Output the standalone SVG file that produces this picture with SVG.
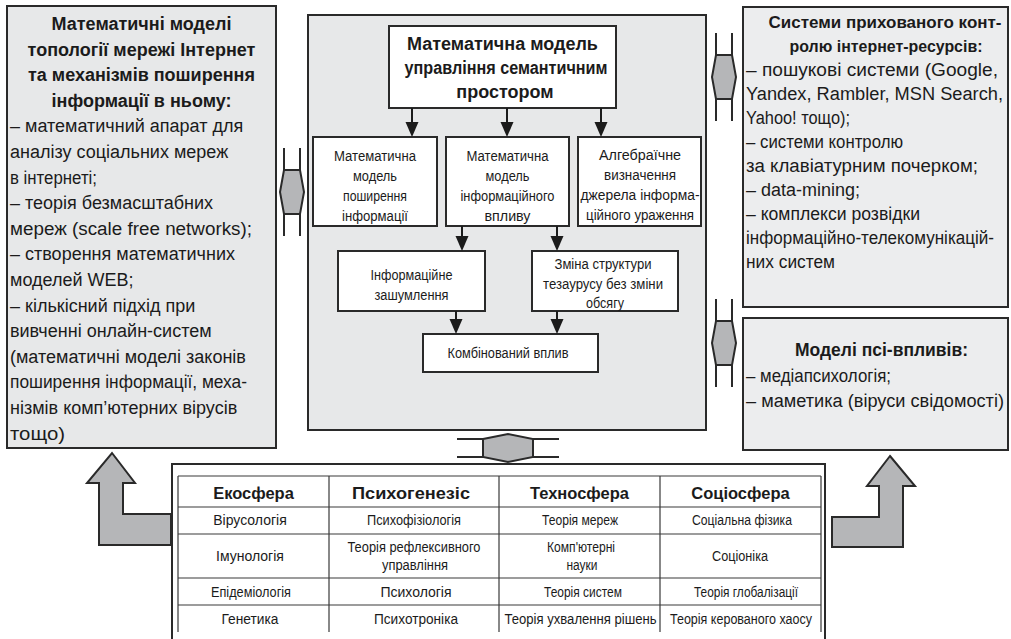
<svg xmlns="http://www.w3.org/2000/svg" width="1011" height="639" viewBox="0 0 1011 639">
  <style>
    .t { font-family: "Liberation Sans", Arial, sans-serif; fill: #1b1b1b; }
    .hb { font-size: 18px; font-weight: bold; text-anchor: middle; }
    .hb17 { font-size: 17px; font-weight: bold; text-anchor: middle; }
    .body { font-size: 18px; }
    .sm { font-size: 14px; text-anchor: middle; }
    .th { font-size: 16.5px; font-weight: bold; text-anchor: middle; }
    .td { font-size: 14px; text-anchor: middle; }
    .panel { fill: #e7e8e9; stroke: #2a2a2a; stroke-width: 2; }
    .panel2 { fill: #ecedee; stroke: #2a2a2a; stroke-width: 2; }
    .wbox { fill: #ffffff; stroke: #2a2a2a; stroke-width: 2; }
    .grid { stroke: #3a3a3a; stroke-width: 1.2; fill: none; }
    .frame { stroke: #2a2a2a; stroke-width: 2; fill: none; }
    .wire { stroke: #1b1b1b; stroke-width: 2; fill: none; }
    .head { fill: #1b1b1b; }
    .fat { fill: #b5b6b8; stroke: #2a2a2a; stroke-width: 2; stroke-linejoin: miter; }
    .fatline { fill: none; stroke: #2a2a2a; stroke-width: 2; }
  </style>
  <defs>
    <!-- vertical two-way block arrow, centred on the origin -->
    <g id="dblV">
      <path class="fat" d="M-8,-22 H8 L12,0 L8,22 H-8 L-12,0 Z"/>
      <path class="fatline" d="M-8,-44 V-22 M8,-44 V-22 M-8,22 V44 M8,22 V44"/>
    </g>
    <!-- horizontal two-way block arrow, centred on the origin -->
    <g id="dblH">
      <path class="fat" d="M-25,-9 L0,-14 L25,-9 V9 L0,14 L-25,9 Z"/>
      <path class="fatline" d="M-51,-9 H-25 M-51,9 H-25 M25,-9 H51 M25,9 H51"/>
    </g>
    <!-- small arrow head pointing down, tip at the origin -->
    <path id="tip" class="head" d="M0,0 L-6.5,-15 L6.5,-15 Z"/>
  </defs>

  <rect width="1011" height="639" fill="#ffffff"/>

  <!-- left panel -->
  <g id="topology">
    <rect class="panel" x="7" y="6" width="269" height="442"/>
    <text class="t hb" x="141.5" y="30">Математичні моделі</text>
    <text class="t hb" x="141.5" y="55.6">топології мережі Інтернет</text>
    <text class="t hb" x="141.5" y="81.2">та механізмів поширення</text>
    <text class="t hb" x="141.5" y="106.8">інформації в ньому:</text>
    <text class="t body" x="10" y="132.4">– математичний апарат для</text>
    <text class="t body" x="10" y="158">аналізу соціальних мереж</text>
    <text class="t body" x="10" y="183.6" textLength="87" lengthAdjust="spacingAndGlyphs">в інтернеті;</text>
    <text class="t body" x="10" y="209.2">– теорія безмасштабних</text>
    <text class="t body" x="10" y="234.8" textLength="242" lengthAdjust="spacingAndGlyphs">мереж (scale free networks);</text>
    <text class="t body" x="10" y="260.4">– створення математичних</text>
    <text class="t body" x="10" y="286">моделей WEB;</text>
    <text class="t body" x="10" y="311.6">– кількісний підхід при</text>
    <text class="t body" x="10" y="337.2">вивченні онлайн-систем</text>
    <text class="t body" x="10" y="362.8">(математичні моделі законів</text>
    <text class="t body" x="10" y="388.4" textLength="237" lengthAdjust="spacingAndGlyphs">поширення інформації, меха-</text>
    <text class="t body" x="10" y="414">нізмів комп’ютерних вірусів</text>
    <text class="t body" x="10" y="439.6" textLength="55" lengthAdjust="spacingAndGlyphs">тощо)</text>
  </g>

  <!-- centre panel -->
  <g id="semantic-panel">
    <rect class="panel" x="308" y="15" width="398" height="415"/>
  </g>
  <g id="semantic-model">
    <rect class="wbox" x="389" y="26" width="227" height="82"/>
    <text class="t hb" x="502.5" y="50">Математична модель</text>
    <text class="t hb" x="506" y="74" textLength="203" lengthAdjust="spacingAndGlyphs">управління семантичним</text>
    <text class="t hb" x="505" y="98">простором</text>
  </g>
  <g id="spread-model">
    <rect class="wbox" x="313" y="137" width="124" height="89"/>
    <text class="t sm" x="375" y="161" textLength="82" lengthAdjust="spacingAndGlyphs">Математична</text>
    <text class="t sm" x="375" y="181" textLength="44" lengthAdjust="spacingAndGlyphs">модель</text>
    <text class="t sm" x="375" y="201" textLength="64" lengthAdjust="spacingAndGlyphs">поширення</text>
    <text class="t sm" x="375" y="221" textLength="66" lengthAdjust="spacingAndGlyphs">інформації</text>
  </g>
  <g id="influence-model">
    <rect class="wbox" x="446" y="137" width="123" height="89"/>
    <text class="t sm" x="507.5" y="161" textLength="82" lengthAdjust="spacingAndGlyphs">Математична</text>
    <text class="t sm" x="507.5" y="181" textLength="44" lengthAdjust="spacingAndGlyphs">модель</text>
    <text class="t sm" x="507.5" y="201" textLength="94" lengthAdjust="spacingAndGlyphs">інформаційного</text>
    <text class="t sm" x="507.5" y="221" textLength="46" lengthAdjust="spacingAndGlyphs">впливу</text>
  </g>
  <g id="source-definition">
    <rect class="wbox" x="578" y="137" width="123" height="89"/>
    <text class="t sm" x="640" y="160" textLength="82" lengthAdjust="spacingAndGlyphs">Алгебраїчне</text>
    <text class="t sm" x="640" y="180" textLength="72" lengthAdjust="spacingAndGlyphs">визначення</text>
    <text class="t sm" x="640" y="200" textLength="119" lengthAdjust="spacingAndGlyphs">джерела інформа-</text>
    <text class="t sm" x="640" y="220" textLength="108" lengthAdjust="spacingAndGlyphs">ційного ураження</text>
  </g>
  <g id="noise">
    <rect class="wbox" x="338" y="251" width="147" height="60"/>
    <text class="t sm" x="411.5" y="280" textLength="82" lengthAdjust="spacingAndGlyphs">Інформаційне</text>
    <text class="t sm" x="411.5" y="300" textLength="74" lengthAdjust="spacingAndGlyphs">зашумлення</text>
  </g>
  <g id="thesaurus">
    <rect class="wbox" x="532" y="251" width="146" height="60"/>
    <text class="t sm" x="603" y="269" textLength="97" lengthAdjust="spacingAndGlyphs">Зміна структури</text>
    <text class="t sm" x="603" y="289" textLength="120" lengthAdjust="spacingAndGlyphs">тезаурусу без зміни</text>
    <text class="t sm" x="605" y="308" textLength="38" lengthAdjust="spacingAndGlyphs">обсягу</text>
  </g>
  <g id="combined">
    <rect class="wbox" x="423" y="334" width="175" height="38"/>
    <text class="t sm" x="508" y="358" textLength="121" lengthAdjust="spacingAndGlyphs">Комбінований вплив</text>
  </g>

  <!-- right panels -->
  <g id="hidden-control">
    <rect class="panel2" x="743" y="7" width="265" height="300"/>
    <text class="t hb17" x="885" y="28" textLength="233" lengthAdjust="spacingAndGlyphs">Системи прихованого конт-</text>
    <text class="t hb17" x="886" y="52" textLength="193" lengthAdjust="spacingAndGlyphs">ролю інтернет-ресурсів:</text>
    <text class="t body" x="746" y="76" textLength="252" lengthAdjust="spacingAndGlyphs">– пошукові системи (Google,</text>
    <text class="t body" x="746" y="100" textLength="257" lengthAdjust="spacingAndGlyphs">Yandex, Rambler, MSN Search,</text>
    <text class="t body" x="746" y="124" textLength="104" lengthAdjust="spacingAndGlyphs">Yahoo! тощо);</text>
    <text class="t body" x="746" y="148" textLength="157" lengthAdjust="spacingAndGlyphs">– системи контролю</text>
    <text class="t body" x="746" y="172" textLength="232" lengthAdjust="spacingAndGlyphs">за клавіатурним почерком;</text>
    <text class="t body" x="746" y="196" textLength="114" lengthAdjust="spacingAndGlyphs">– data-mining;</text>
    <text class="t body" x="746" y="220" textLength="174" lengthAdjust="spacingAndGlyphs">– комплекси розвідки</text>
    <text class="t body" x="746" y="244" textLength="248" lengthAdjust="spacingAndGlyphs">інформаційно-телекомунікацій-</text>
    <text class="t body" x="746" y="268" textLength="89" lengthAdjust="spacingAndGlyphs">них систем</text>
  </g>
  <g id="psi-models">
    <rect class="panel2" x="743" y="318" width="265" height="132"/>
    <text class="t hb" x="881.5" y="356" textLength="173" lengthAdjust="spacingAndGlyphs">Моделі псі-впливів:</text>
    <text class="t body" x="746" y="382" textLength="145" lengthAdjust="spacingAndGlyphs">– медіапсихологія;</text>
    <text class="t body" x="746" y="407" textLength="258" lengthAdjust="spacingAndGlyphs">– маметика (віруси свідомості)</text>
  </g>

  <!-- table of disciplines -->
  <g id="disciplines">
    <path class="frame" d="M172,639 V464 H825 V639"/>
    <path class="grid" d="M178,476 H821 M178,507 H821 M178,534 H821 M178,578 H821 M178,605 H821"/>
    <path class="grid" d="M178,476 V632 M329,476 V632 M499,476 V632 M660,476 V632 M821,476 V632"/>
    <text class="t th" x="253.5" y="499">Екосфера</text>
    <text class="t th" x="411" y="499" textLength="118" lengthAdjust="spacingAndGlyphs">Психогенезіс</text>
    <text class="t th" x="579.5" y="499">Техносфера</text>
    <text class="t th" x="740.5" y="499">Соціосфера</text>

    <text class="t td" x="250" y="525">Вірусологія</text>
    <text class="t td" x="414" y="525" textLength="94" lengthAdjust="spacingAndGlyphs">Психофізіологія</text>
    <text class="t td" x="580" y="525" textLength="76" lengthAdjust="spacingAndGlyphs">Теорія мереж</text>
    <text class="t td" x="742" y="525" textLength="100" lengthAdjust="spacingAndGlyphs">Соціальна фізика</text>

    <text class="t td" x="250" y="561">Імунологія</text>
    <text class="t td" x="414" y="552" textLength="133" lengthAdjust="spacingAndGlyphs">Теорія рефлексивного</text>
    <text class="t td" x="415" y="570" textLength="66" lengthAdjust="spacingAndGlyphs">управління</text>
    <text class="t td" x="581" y="552" textLength="68" lengthAdjust="spacingAndGlyphs">Комп'ютерні</text>
    <text class="t td" x="582" y="570" textLength="31" lengthAdjust="spacingAndGlyphs">науки</text>
    <text class="t td" x="740" y="561" textLength="56" lengthAdjust="spacingAndGlyphs">Соціоніка</text>

    <text class="t td" x="251" y="597" textLength="80" lengthAdjust="spacingAndGlyphs">Епідеміологія</text>
    <text class="t td" x="416" y="597">Психологія</text>
    <text class="t td" x="583" y="597" textLength="78" lengthAdjust="spacingAndGlyphs">Теорія систем</text>
    <text class="t td" x="746" y="597" textLength="104" lengthAdjust="spacingAndGlyphs">Теорія глобалізації</text>

    <text class="t td" x="250" y="624" textLength="57" lengthAdjust="spacingAndGlyphs">Генетика</text>
    <text class="t td" x="416" y="624" textLength="84" lengthAdjust="spacingAndGlyphs">Психотроніка</text>
    <text class="t td" x="580.5" y="624" textLength="152" lengthAdjust="spacingAndGlyphs">Теорія ухвалення рішень</text>
    <text class="t td" x="741" y="624" textLength="142" lengthAdjust="spacingAndGlyphs">Теорія керованого хаосу</text>
  </g>

  <!-- connectors -->
  <g id="connectors">
    <path class="wire" d="M412,108 V124 M507,108 V124 M601,108 V124"/>
    <use href="#tip" x="412" y="137"/>
    <use href="#tip" x="507" y="137"/>
    <use href="#tip" x="601" y="137"/>

    <path class="wire" d="M462,226 V238 M557,226 V238"/>
    <use href="#tip" x="462" y="251"/>
    <use href="#tip" x="557" y="251"/>

    <path class="wire" d="M456,311 V321 M557,311 V321"/>
    <use href="#tip" x="456" y="334"/>
    <use href="#tip" x="557" y="334"/>

    <use href="#dblV" transform="translate(292,192)"/>
    <use href="#dblV" transform="translate(724,77)"/>
    <use href="#dblV" transform="translate(724,343)"/>
    <use href="#dblH" transform="translate(508,448)"/>

    <polygon class="fat" points="112,453 135,483 123,483 123,514 171,514 171,545 99,545 99,483 87,483"/>
    <polygon class="fat" points="890,456 915,486 903,486 903,547 832,547 832,517 879,517 879,486 867,486"/>
  </g>
</svg>
